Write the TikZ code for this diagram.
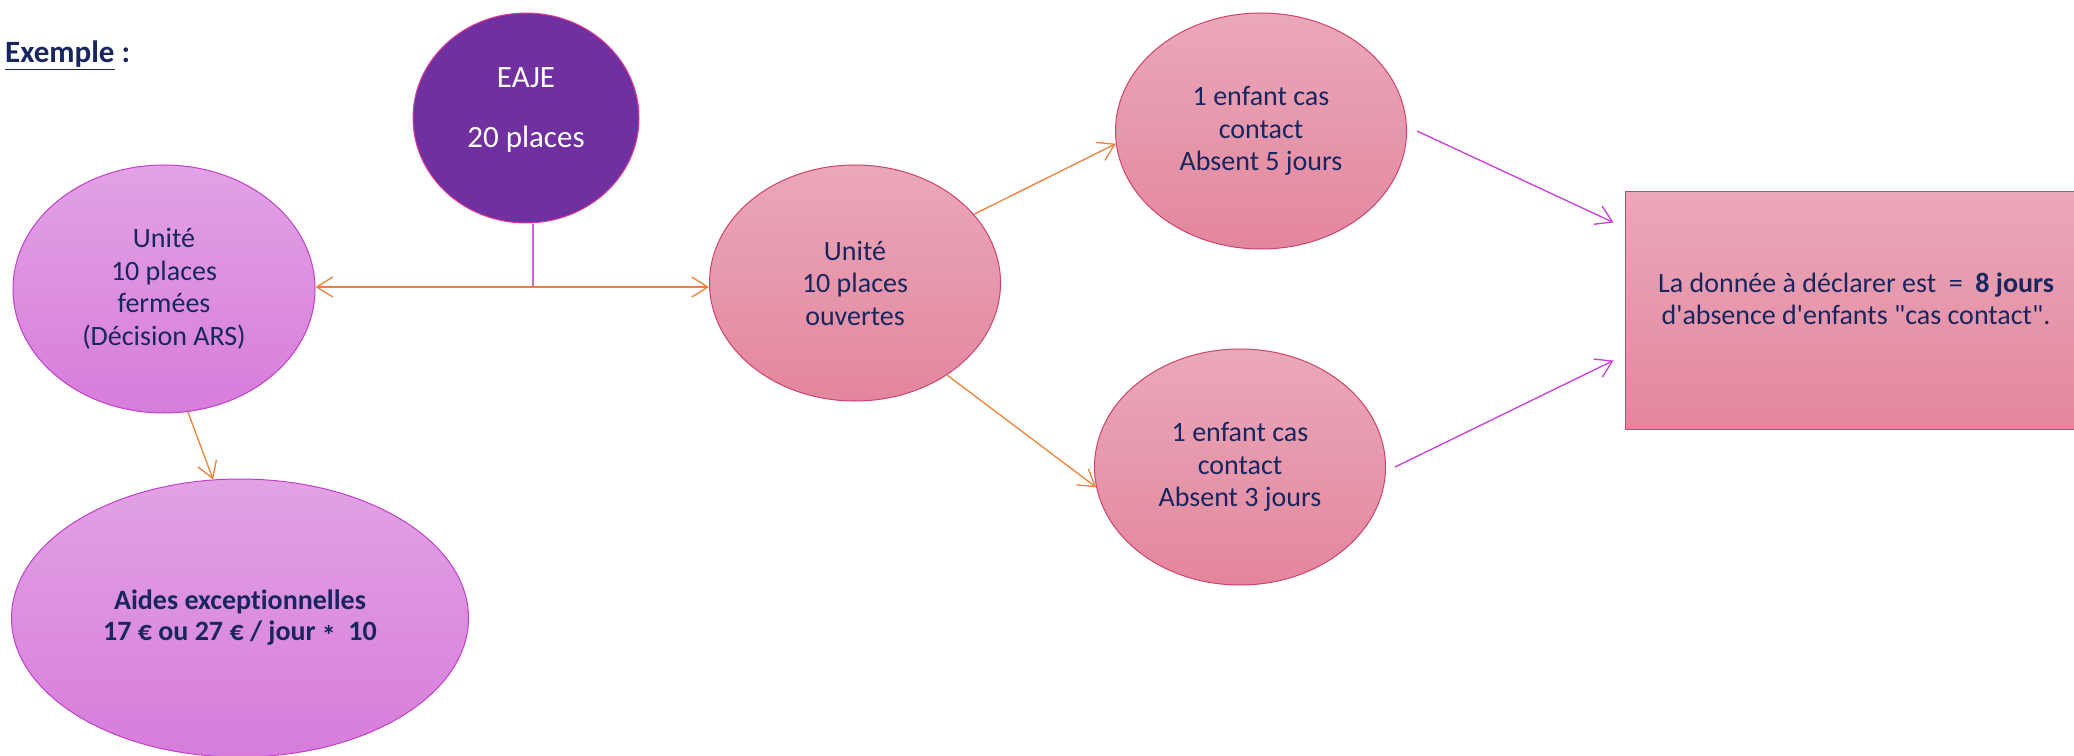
\documentclass[tikz,border=0pt]{standalone}
\usepackage{fontspec}
\setmainfont{Carlito}[Ligatures={NoCommon}]
\usetikzlibrary{shapes.geometric,arrows.meta}
\definecolor{navy}{RGB}{24,38,96}
\definecolor{eajefill}{RGB}{112,48,160}
\definecolor{eajeline}{RGB}{222,60,150}
\definecolor{viotop}{RGB}{226,162,228}
\definecolor{viobot}{RGB}{215,124,219}
\definecolor{violine}{RGB}{192,64,200}
\definecolor{pinktop}{RGB}{234,168,184}
\definecolor{pinkbot}{RGB}{227,134,158}
\definecolor{pinkline}{RGB}{208,66,110}
\definecolor{orangeline}{RGB}{240,128,56}
\definecolor{magline}{RGB}{204,60,220}
\definecolor{stemline}{RGB}{205,102,221}
\begin{document}
\begin{tikzpicture}[x=1bp,y=-1bp,
  txt/.style={font=\fontsize{28bp}{32.5bp}\selectfont, text=navy, align=center},
  oval/.style={ellipse, inner sep=2bp, line width=1bp},
  violet node/.style={oval, draw=violine, top color=viotop, bottom color=viobot, txt},
  pink node/.style={oval, draw=pinkline, top color=pinktop, bottom color=pinkbot, txt},
  orarrow/.style={draw=orangeline, line width=1.3bp, -{Straight Barb[length=16bp,width=20bp]}},
  magarrow/.style={draw=magline, line width=1.3bp, -{Straight Barb[length=16bp,width=20bp]}},
]
\useasboundingbox (0,0) rectangle (2074,756);
\fill[white] (0,0) rectangle (2074,756);

\node[anchor=base west, font=\fontsize{31bp}{36bp}\selectfont\bfseries, text=navy, inner sep=0] (ex) at (5,63) {\underline{Exemple} :};

\node[oval, draw=eajeline, fill=eajefill, minimum width=226bp, minimum height=210bp] (eaje) at (526,118) {};
\node[font=\fontsize{31bp}{36bp}\selectfont, text=white, align=center, inner sep=0] (eajet) at (526,110) {EAJE\\[24bp]20 places};

\node[violet node, minimum width=302bp, minimum height=248bp] (ferm) at (164,289) {Unité\\10 places\\fermées\\(Décision ARS)};
\node[violet node, minimum width=457bp, minimum height=278bp, font=\fontsize{28bp}{31bp}\selectfont\bfseries] (aides) at (240,618) {Aides exceptionnelles\\17 € ou 27 € / jour \raisebox{-5bp}{*}\ \ 10};

\node[pink node, minimum width=291bp, minimum height=236bp] (ouv) at (855,283) {Unité\\10 places\\ouvertes};
\node[pink node, minimum width=291bp, minimum height=236bp] (top) at (1261,131) {1 enfant cas\\contact\\Absent 5 jours};
\node[pink node, minimum width=291bp, minimum height=236bp] (bot) at (1240,467) {1 enfant cas\\contact\\Absent 3 jours};

\node[rectangle, draw=pinkline, top color=pinktop, bottom color=pinkbot, line width=1bp, minimum width=450bp, minimum height=237bp, inner sep=0] (res) at (1850,310.5) {};
\node[txt, inner sep=0] (rest) at (1856,299) {La donnée à déclarer est \ = \ \textbf{8 jours}\\d\textquotesingle absence d\textquotesingle enfants \textquotedbl cas contact\textquotedbl.};

\coordinate (j) at (533,287);
\draw[stemline, line width=1.3bp] (j |- eaje.south) -- (j);
\draw[orarrow] (j) -- (ferm.east |- j);
\draw[orarrow] (j) -- (ouv.west |- j);
\draw[orarrow] (ferm.-79) -- (aides.101);
\draw[orarrow] (ouv.30) -- (top.185);
\draw[orarrow] (ouv.-45) -- (bot.188);
\draw[magarrow] ([xshift=10bp]top.east) -- ([xshift=-11bp,yshift=88bp]res.west);
\draw[magarrow] ([xshift=9bp]bot.east) -- ([xshift=-11bp,yshift=-50bp]res.west);
\end{tikzpicture}
\end{document}
